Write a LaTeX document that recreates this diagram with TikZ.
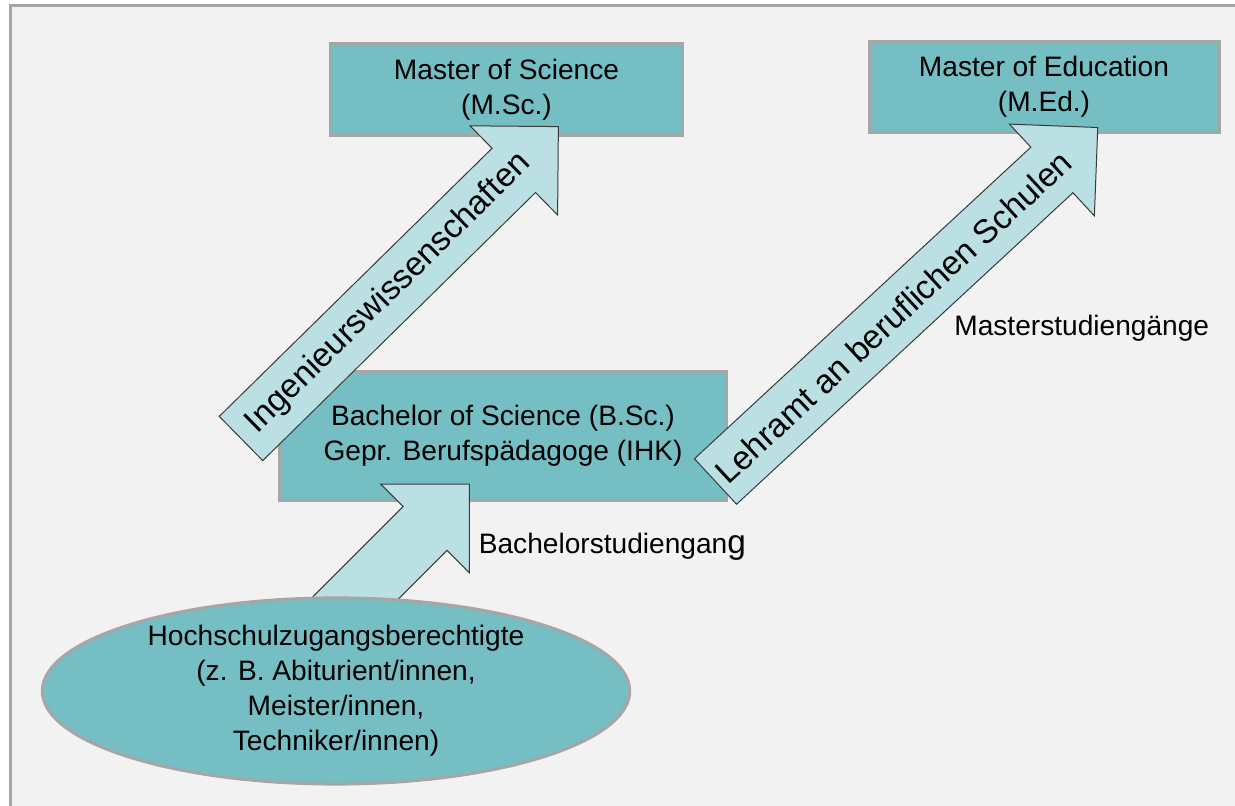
\documentclass[tikz,border=0pt]{standalone}
\usepackage{fontspec}
\setmainfont{Liberation Sans}
\usetikzlibrary{shapes.geometric}
\definecolor{boxfill}{HTML}{74BEC4}
\definecolor{arrowfill}{HTML}{BAE0E3}
\definecolor{arrowline}{HTML}{3A3A3A}
\definecolor{framegray}{HTML}{A6A6A6}
\definecolor{bggray}{HTML}{F2F2F2}
\begin{document}
\begin{tikzpicture}
        \tikzstyle{box}=[rectangle, draw=framegray, line width=0.06cm, fill=boxfill, inner sep=0pt, align=center, font=\fontsize{16}{20}\selectfont]
        \tikzstyle{oval}=[ellipse, draw=framegray, line width=0.06cm, fill=boxfill, inner sep=0pt, align=center, font=\fontsize{16}{20}\selectfont]
        \tikzstyle{barrow}=[draw=arrowline, line width=0.02cm, fill=arrowfill, line join=miter]
        \tikzstyle{arrowtext}=[inner sep=0pt, transform shape, font=\fontsize{19}{23}\selectfont]
        \tikzstyle{caption}=[inner sep=0pt, anchor=base west, font=\fontsize{16}{20}\selectfont]

        \useasboundingbox (0,0) rectangle (24.7,16.12);
        \fill[white] (0,0) rectangle (24.7,16.12);
        \fill[bggray] (0.21,0) rectangle (24.7,16.01);
        \draw[framegray, line width=0.06cm] (0.21,0) -- (0.21,16.01) -- (24.7,16.01);

        \node[box, minimum width=7.04cm, minimum height=1.83cm] (msc) at (10.13,14.33) {Master of Science\\(M.Sc.)};
        \node[box, minimum width=7.0cm, minimum height=1.82cm]  (med) at (20.88,14.38) {Master of Education\\(M.Ed.)};
        \node[box, minimum width=8.94cm, minimum height=2.58cm] (bsc) at (10.06,7.40) {Bachelor of Science (B.Sc.)\\Gepr. Berufspädagoge (IHK)};

        \begin{scope}[shift={(5.85,2.90)}, rotate=45]
            \draw[barrow] (0,-0.62) -- (3.75,-0.62) -- (3.75,-1.25) -- (5,0) -- (3.75,1.25) -- (3.75,0.62) -- (0,0.62) -- cycle;
        \end{scope}

        \node[oval, minimum width=11.75cm, minimum height=3.71cm] (hzb) at (6.72,2.30) {Hochschulzugangsberechtigte\\(z. B. Abiturient/innen,\\Meister/innen,\\Techniker/innen)};

        \begin{scope}[shift={(4.82,7.35)}, rotate=44.5]
            \draw[barrow] (0,-0.62) -- (7.65,-0.62) -- (7.65,-1.25) -- (8.9,0) -- (7.65,1.25) -- (7.65,0.62) -- (0,0.62) -- cycle;
            \node[arrowtext] (ing) at (4.14,0) {Ingenieurswissenschaften};
        \end{scope}

        \begin{scope}[shift={(14.31,6.49)}, rotate=42.8]
            \draw[barrow] (0,-0.62) -- (9.17,-0.62) -- (9.17,-1.25) -- (10.42,0) -- (9.17,1.25) -- (9.17,0.62) -- (0,0.62) -- cycle;
            \node[arrowtext] (lehr) at (4.85,0) {Lehramt an beruflichen Schulen};
        \end{scope}

        \node[caption] (masterlbl) at (19.08,9.40) {Masterstudiengänge};
        \node[caption] (bachlbl) at (9.57,5.05) {Bachelorstudiengan{\fontsize{19}{20}\selectfont g}};
    \end{tikzpicture}
\end{document}
